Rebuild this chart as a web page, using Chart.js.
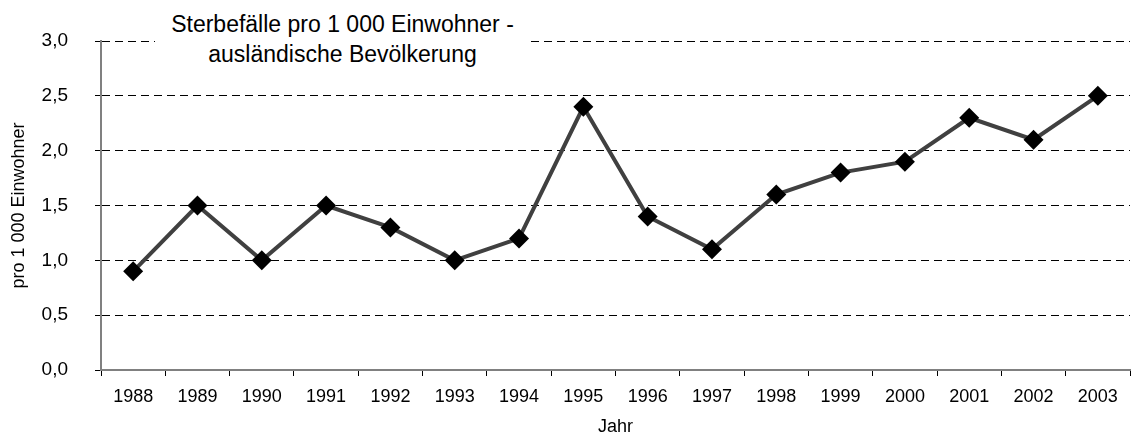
<!DOCTYPE html>
<html lang="de">
<head>
    <meta charset="UTF-8">
    <title>Sterbefälle pro 1 000 Einwohner</title>
    <script src="https://cdn.jsdelivr.net/npm/chart.js"></script>
    <style>
        html, body { margin: 0; padding: 0; background: #fff; overflow: hidden; }
        .wrap { position: relative; width: 1140px; height: 438px; }
        .title {
            position: absolute; left: 155px; top: 9px; width: 375px;
            background: #fff; text-align: center;
            font-family: "Liberation Sans", Arial, sans-serif; font-size: 23px; line-height: 30px;
            color: #000;
        }
    </style>
</head>
<body>
    <div class="wrap">
        <canvas id="chart" width="1140" height="438"></canvas>
        <div class="title">Sterbefälle pro 1 000 Einwohner -<br>ausländische Bevölkerung</div>
    </div>

    <script>
        // Daten
        const jahre = ['1988', '1989', '1990', '1991', '1992', '1993', '1994', '1995',
                       '1996', '1997', '1998', '1999', '2000', '2001', '2002', '2003'];
        const sterbefaelle = [0.9, 1.5, 1.0, 1.5, 1.3, 1.0, 1.2, 2.4, 1.4, 1.1, 1.6, 1.8, 1.9, 2.3, 2.1, 2.5];
        const yTicks = [0, 0.5, 1, 1.5, 2, 2.5, 3];

        const font = "'Liberation Sans', Arial, sans-serif";
        const fmt = v => v.toFixed(1).replace('.', ',');

        new Chart(document.getElementById('chart'), {
            type: 'line',
            data: {
                labels: jahre,
                datasets: [{
                    data: sterbefaelle,
                    borderColor: '#404040',
                    borderWidth: 4,
                    pointStyle: 'rectRot',
                    pointRadius: 10,
                    pointBackgroundColor: '#000',
                    pointBorderColor: '#000',
                    pointBorderWidth: 0,
                    tension: 0
                }]
            },
            options: {
                responsive: false,
                animation: false,
                layout: { padding: { top: 41, right: 0, left: 0, bottom: 0 } },
                plugins: { legend: { display: false }, tooltip: { enabled: false } },
                scales: {
                    x: {
                        offset: true,
                        grid: { offset: true, drawOnChartArea: false, drawTicks: true, tickLength: 6, color: '#000', tickColor: '#000', lineWidth: 1 },
                        border: { color: '#808080', width: 2 },
                        ticks: { color: '#000', font: { family: font, size: 18 }, padding: 10, maxRotation: 0 },
                        title: { display: true, text: 'Jahr', color: '#000', font: { family: font, size: 18 }, padding: { top: 0, bottom: 0 } },
                        afterFit: s => { s.height = 68; }
                    },
                    y: {
                        min: 0, max: 3,
                        afterBuildTicks: s => { s.ticks = yTicks.map(v => ({ value: v })); },
                        grid: {
                            color: ctx => ctx.tick && ctx.tick.value === 0 ? 'rgba(0,0,0,0)' : '#000',
                            tickColor: '#000',
                            lineWidth: 1,
                            drawTicks: true, tickLength: 6
                        },
                        border: { color: '#808080', width: 2, dash: [8, 5] },
                        ticks: { color: '#000', font: { family: font, size: 19 }, padding: 27, callback: v => fmt(v) },
                        title: { display: true, text: 'pro 1 000 Einwohner', color: '#000', font: { family: font, size: 18 }, padding: { top: 8, bottom: 0 } },
                        afterFit: s => { s.width = 101; }
                    }
                }
            }
        });
    </script>
</body>
</html>
